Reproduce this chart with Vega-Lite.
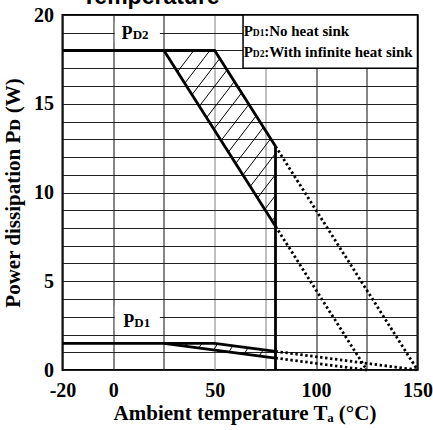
{
  "$schema": "https://vega.github.io/schema/vega-lite/v6.json",
  "width": 355,
  "height": 355,
  "autosize": {"type": "none"},
  "padding": {"left": 62.5, "top": 15, "right": 15.5, "bottom": 60},
  "background": "white",
  "title": {
    "text": "Temperature",
    "anchor": "start",
    "frame": "group",
    "font": "Liberation Sans",
    "fontWeight": "bold",
    "fontSize": 23,
    "color": "black",
    "baseline": "alphabetic",
    "offset": -21.5,
    "dx": 19.5
  },
  "config": {
    "view": {"stroke": "black", "strokeWidth": 2},
    "axis": {
      "labelFont": "Liberation Serif",
      "labelFontWeight": "bold",
      "labelFontSize": 20,
      "labelColor": "black",
      "titleFont": "Liberation Serif",
      "titleFontWeight": "bold",
      "titleFontSize": 21,
      "titleColor": "black",
      "ticks": false,
      "tickSize": 0,
      "domain": false,
      "labelOverlap": false,
      "labelFlush": false,
      "gridWidth": 1.1
    }
  },
  "datasets": {
    "lines": [
      {"id": "pd2_upper", "o": 1, "x": -25, "y": 18},
      {"id": "pd2_upper", "o": 2, "x": 50, "y": 18},
      {"id": "pd2_upper", "o": 3, "x": 80, "y": 12.6},
      {"id": "pd2_lower", "o": 1, "x": 25, "y": 18},
      {"id": "pd2_lower", "o": 2, "x": 80, "y": 8.1},
      {"id": "limit80", "o": 1, "x": 80, "y": 12.6},
      {"id": "limit80", "o": 2, "x": 80, "y": 0},
      {"id": "pd1_upper", "o": 1, "x": -25, "y": 1.5},
      {"id": "pd1_upper", "o": 2, "x": 50, "y": 1.5},
      {"id": "pd1_upper", "o": 3, "x": 80, "y": 1.05},
      {"id": "pd1_lower", "o": 1, "x": 25, "y": 1.5},
      {"id": "pd1_lower", "o": 2, "x": 80, "y": 0.675}
    ],
    "dotted": [
      {"id": "pd2_upper_ext", "o": 1, "x": 80, "y": 12.6},
      {"id": "pd2_upper_ext", "o": 2, "x": 150, "y": 0},
      {"id": "pd2_lower_ext", "o": 1, "x": 80, "y": 8.1},
      {"id": "pd2_lower_ext", "o": 2, "x": 125, "y": 0},
      {"id": "pd1_upper_ext", "o": 1, "x": 80, "y": 1.05},
      {"id": "pd1_upper_ext", "o": 2, "x": 150, "y": 0},
      {"id": "pd1_lower_ext", "o": 1, "x": 80, "y": 0.675},
      {"id": "pd1_lower_ext", "o": 2, "x": 125, "y": 0}
    ],
    "hatch": [
      {"x": 31.67, "y": 16.8, "x2": 39.73, "y2": 18},
      {"x": 35.26, "y": 16.15, "x2": 47.65, "y2": 18},
      {"x": 38.84, "y": 15.51, "x2": 52.52, "y2": 17.55},
      {"x": 42.43, "y": 14.86, "x2": 56.11, "y2": 16.9},
      {"x": 46.02, "y": 14.22, "x2": 59.7, "y2": 16.25},
      {"x": 49.6, "y": 13.57, "x2": 63.28, "y2": 15.61},
      {"x": 53.19, "y": 12.93, "x2": 66.87, "y2": 14.96},
      {"x": 56.78, "y": 12.28, "x2": 70.46, "y2": 14.32},
      {"x": 60.36, "y": 11.63, "x2": 74.04, "y2": 13.67},
      {"x": 63.95, "y": 10.99, "x2": 77.63, "y2": 13.03},
      {"x": 67.54, "y": 10.34, "x2": 80, "y2": 12.2},
      {"x": 71.12, "y": 9.7, "x2": 80, "y2": 11.02},
      {"x": 74.71, "y": 9.05, "x2": 80, "y2": 9.84},
      {"x": 78.3, "y": 8.41, "x2": 80, "y2": 8.66},
      {"x": 35, "y": 1.35, "x2": 37, "y2": 1.5},
      {"x": 42, "y": 1.245, "x2": 44, "y2": 1.5},
      {"x": 49.5, "y": 1.1325, "x2": 51.5, "y2": 1.4775},
      {"x": 57, "y": 1.02, "x2": 59, "y2": 1.365},
      {"x": 64.5, "y": 0.9075, "x2": 66.5, "y2": 1.2525},
      {"x": 72, "y": 0.795, "x2": 74, "y2": 1.14}
    ],
    "labelBoxes": [
      {"x": 0.8, "x2": 23, "y": 18.45, "y2": 19.6},
      {"x": 0.8, "x2": 23, "y": 2.2, "y2": 3.6}
    ],
    "legendBox": [
      {"x": 64, "x2": 150, "y": 17, "y2": 20}
    ],
    "legendMain": [
      {"x": 64.3, "y": 18.82, "t": "P"},
      {"x": 74.4, "y": 18.82, "t": ":No heat sink"},
      {"x": 64.3, "y": 17.65, "t": "P"},
      {"x": 74.4, "y": 17.65, "t": ":With infinite heat sink"}
    ],
    "legendSub": [
      {"x": 68.8, "y": 18.82, "t": "D1"},
      {"x": 68.8, "y": 17.65, "t": "D2"}
    ],
    "curveMain": [
      {"x": 4.1, "y": 18.63, "t": "P"},
      {"x": 4.9, "y": 2.4, "t": "P"}
    ],
    "curveSub": [
      {"x": 9.6, "y": 18.63, "t": "D2"},
      {"x": 10.4, "y": 2.4, "t": "D1"}
    ]
  },
  "encoding": {
    "x": {
      "field": "x",
      "type": "quantitative",
      "scale": {"domain": [-25, 150], "nice": false, "zero": false},
      "axis": {
        "values": [-25, 0, 25, 50, 75, 100, 125, 150],
        "labelExpr": "datum.value == -25 ? '-20' : (datum.value % 50 == 0 ? datum.label : '')",
        "grid": true,
        "gridColor": {"condition": {"test": "datum.value == 50 || datum.value == 75", "value": "#8a8a8a"}, "value": "#222222"},
        "labelBaseline": "alphabetic",
        "labelPadding": 26,
        "title": "Ambient temperature Tₐ (°C)",
        "titleX": 182,
        "titleY": 49,
        "titleAlign": "center",
        "titleBaseline": "alphabetic"
      }
    },
    "y": {
      "field": "y",
      "type": "quantitative",
      "scale": {"domain": [0, 20], "nice": false, "zero": false},
      "axis": {
        "values": [0, 1, 2, 3, 4, 5, 6, 7, 8, 9, 10, 11, 12, 13, 14, 15, 16, 17, 18, 19, 20],
        "labelExpr": "datum.value % 5 == 0 ? datum.label : ''",
        "grid": true,
        "gridColor": "#222222",
        "labelPadding": 9,
        "labelBaseline": "middle",
        "title": "Power dissipation Pᴅ (W)",
        "titleAngle": -90,
        "titleX": -49.5,
        "titleY": 177.5,
        "titleAlign": "center",
        "titleBaseline": "middle"
      }
    }
  },
  "layer": [
    {
      "data": {"name": "labelBoxes"},
      "mark": {"type": "rect", "fill": "white", "strokeWidth": 0},
      "encoding": {
        "x2": {"field": "x2"},
        "y2": {"field": "y2"}
      }
    },
    {
      "data": {"name": "hatch"},
      "mark": {"type": "rule", "color": "black", "strokeWidth": 1},
      "encoding": {
        "x2": {"field": "x2"},
        "y2": {"field": "y2"}
      }
    },
    {
      "data": {"name": "dotted"},
      "mark": {"type": "line", "color": "black", "strokeWidth": 2.8, "strokeDash": [2.4, 2.6], "strokeCap": "butt"},
      "encoding": {
        "detail": {"field": "id"},
        "order": {"field": "o"}
      }
    },
    {
      "data": {"name": "lines"},
      "mark": {"type": "line", "color": "black", "strokeWidth": 2.8, "strokeJoin": "miter"},
      "encoding": {
        "detail": {"field": "id"},
        "order": {"field": "o"}
      }
    },
    {
      "data": {"name": "legendBox"},
      "mark": {"type": "rect", "fill": "white", "stroke": "black", "strokeWidth": 1.5},
      "encoding": {
        "x2": {"field": "x2"},
        "y2": {"field": "y2"}
      }
    },
    {
      "data": {"name": "legendMain"},
      "mark": {"type": "text", "font": "Liberation Serif", "fontWeight": "bold", "fontSize": 15, "align": "left", "baseline": "alphabetic", "color": "black"},
      "encoding": {
        "text": {"field": "t"}
      }
    },
    {
      "data": {"name": "legendSub"},
      "mark": {"type": "text", "font": "Liberation Serif", "fontWeight": "bold", "fontSize": 9.5, "align": "left", "baseline": "alphabetic", "color": "black"},
      "encoding": {
        "text": {"field": "t"}
      }
    },
    {
      "data": {"name": "curveMain"},
      "mark": {"type": "text", "font": "Liberation Serif", "fontWeight": "bold", "fontSize": 18, "align": "left", "baseline": "alphabetic", "color": "black"},
      "encoding": {
        "text": {"field": "t"}
      }
    },
    {
      "data": {"name": "curveSub"},
      "mark": {"type": "text", "font": "Liberation Serif", "fontWeight": "bold", "fontSize": 13, "align": "left", "baseline": "alphabetic", "color": "black"},
      "encoding": {
        "text": {"field": "t"}
      }
    }
  ]
}
